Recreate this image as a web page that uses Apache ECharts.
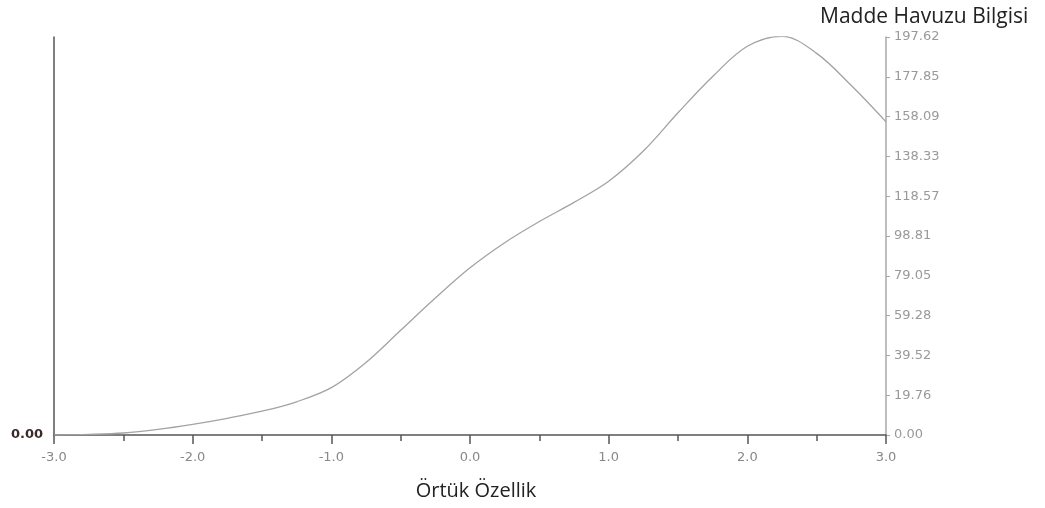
<!DOCTYPE html>
<html>
<head>
<meta charset="utf-8">
<script src="https://cdn.jsdelivr.net/npm/echarts@6/dist/echarts.min.js"></script>
<style>
  html, body { margin: 0; padding: 0; background: #fff; }
  #chart { width: 1045px; height: 508px; }
</style>
</head>
<body>
<div id="chart"></div>
<script>
// Ability (theta) values
const thetas = [-3.0, -2.75, -2.5, -2.25, -2.0, -1.75, -1.5, -1.25, -1.0, -0.75, -0.5, -0.25,
                0.0, 0.25, 0.5, 0.75, 1.0, 1.25, 1.5, 1.75, 2.0, 2.25, 2.5, 2.75, 3.0];
// Item pool information values
const information = [0.0, 0.3, 1.0, 2.8, 5.3, 8.3, 11.8, 16.5, 23.5, 36.0, 52.0, 68.0,
                     83.0, 95.5, 106.0, 115.5, 126.0, 141.0, 160.0, 178.0, 193.0, 198.0, 189.5, 173.5, 155.5];
// Right axis tick labels
const yTickLabels = ['0.00', '19.76', '39.52', '59.28', '79.05', '98.81', '118.57', '138.33', '158.09', '177.85', '197.62'];
const yMax = 197.62;
const yInterval = yMax / 10;

const titleText = 'Madde Havuzu Bilgisi';
const xAxisName = 'Örtük Özellik';

const chart = echarts.init(document.getElementById('chart'), null, { renderer: 'canvas' });
const option = {
  animation: false,
  backgroundColor: '#ffffff',
  title: {
    text: titleText,
    left: 815,
    top: 2,
    textStyle: { fontFamily: 'Open Sans', fontSize: 21, fontWeight: 'normal', color: '#222' }
  },
  grid: { left: 54, right: 159, top: 37, bottom: 73 },
  xAxis: {
    type: 'value',
    min: -3, max: 3, interval: 1,
    name: xAxisName,
    nameLocation: 'middle',
    nameGap: 46,
    nameTextStyle: { fontFamily: 'Open Sans', fontSize: 20, color: '#222', padding: [0, 0, 0, 12] },
    axisLine: { onZero: false, lineStyle: { color: '#555', width: 1.5 } },
    axisTick: { show: true, length: 9, lineStyle: { color: '#555', width: 1.5 } },
    minorTick: { show: true, splitNumber: 2, length: 6, lineStyle: { color: '#555', width: 1.5 } },
    splitLine: { show: false },
    axisLabel: {
      margin: 16,
      fontFamily: 'DejaVu Sans', fontSize: 13, color: '#888',
      formatter: v => v.toFixed(1)
    }
  },
  yAxis: [
    {
      type: 'value', position: 'right',
      min: 0, max: yMax, interval: yInterval,
      axisLine: { show: true, onZero: false, lineStyle: { color: '#a8a8a8', width: 1.5 } },
      axisTick: { show: true, length: 4, lineStyle: { color: '#a8a8a8' } },
      splitLine: { show: false },
      axisLabel: {
        margin: 8,
        fontFamily: 'DejaVu Sans', fontSize: 13, color: '#999',
        formatter: v => { const i = Math.round(v / yInterval); return yTickLabels[i] || ''; }
      }
    },
    {
      type: 'value', position: 'left',
      min: 0, max: yMax, interval: yInterval,
      axisLine: { show: true, onZero: false, lineStyle: { color: '#555', width: 1.5 } },
      axisTick: { show: false },
      splitLine: { show: false },
      axisLabel: {
        margin: 11,
        fontFamily: 'DejaVu Sans', fontSize: 13, fontWeight: 'bold', color: '#3a2a2a',
        formatter: v => (Math.abs(v) < 1e-9 ? yTickLabels[0] : '')
      }
    }
  ],
  series: [{
    type: 'line',
    yAxisIndex: 0,
    data: thetas.map((t, i) => [t, information[i]]),
    smooth: 0.35,
    showSymbol: false,
    lineStyle: { color: '#a3a3a3', width: 1.3 }
  }]
};
chart.setOption(option);
</script>
</body>
</html>
